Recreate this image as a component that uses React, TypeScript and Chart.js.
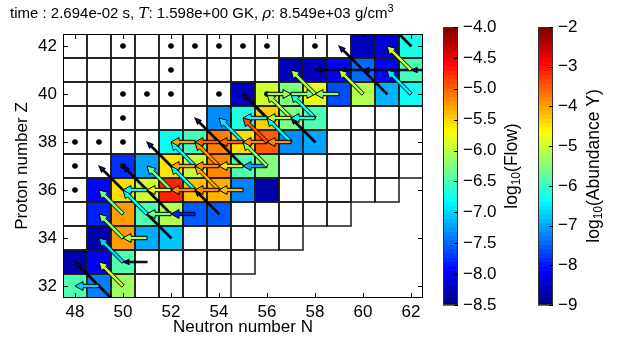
import React, { useEffect, useRef } from "react";
import { Chart, registerables } from "chart.js";

Chart.register(...registerables);

const W = 623;
const H = 347;

// ---- axis ticks ----
const xTicks = [48, 50, 52, 54, 56, 58, 60, 62];
const yTicks = [32, 34, 36, 38, 40, 42];
const flowTicks = [-4.0, -4.5, -5.0, -5.5, -6.0, -6.5, -7.0, -7.5, -8.0, -8.5];
const abundTicks = [-2, -3, -4, -5, -6, -7, -8, -9];
const flowMin = -8.5;
const flowMax = -4.0;
const abundMin = -9;
const abundMax = -2;

// ---- network extent (white cells) per proton number ----
const rowZ = [32, 33, 34, 35, 36, 37, 38, 39, 40, 41, 42];
const rowNmin = [48, 48, 48, 48, 48, 48, 48, 48, 48, 48, 48];
const rowNmax = [54, 55, 57, 59, 61, 62, 62, 62, 62, 62, 62];

// ---- abundances (log10 Y) of coloured cells ----
const cellN = [
  48, 49, 50,
  48, 49, 50,
  49, 50, 51, 52,
  49, 50, 51, 52, 53, 54,
  49, 50, 51, 52, 53, 54, 55, 56,
  50, 51, 52, 53, 54, 55, 56,
  52, 53, 54, 55, 56, 57, 58,
  54, 55, 56, 57, 58,
  55, 56, 57, 58, 59, 60, 61, 62,
  57, 58, 59, 60, 61, 62,
  60, 61, 62,
];
const cellZ = [
  32, 32, 32,
  33, 33, 33,
  34, 34, 34, 34,
  35, 35, 35, 35, 35, 35,
  36, 36, 36, 36, 36, 36, 36, 36,
  37, 37, 37, 37, 37, 37, 37,
  38, 38, 38, 38, 38, 38, 38,
  39, 39, 39, 39, 39,
  40, 40, 40, 40, 40, 40, 40, 40,
  41, 41, 41, 41, 41, 41,
  42, 42, 42,
];
const cellLogY = [
  -5.85, -7.25, -5.3,
  -8.7, -8.2, -5.8,
  -8.7, -3.95, -6.95, -6.75,
  -7.9, -3.95, -5.85, -5.15, -7.5, -7.5,
  -8.1, -4.4, -4.95, -3.1, -4.2, -4.1, -7.25, -8.7,
  -7.8, -7.0, -4.45, -5.0, -3.8, -5.85, -5.5,
  -6.3, -5.9, -3.75, -4.4, -3.5, -7.15, -7.0,
  -7.15, -6.15, -4.3, -5.5, -5.85,
  -8.6, -4.95, -5.5, -4.8, -7.6, -5.15, -6.9, -6.3,
  -8.6, -8.6, -8.1, -7.4, -8.1, -5.9,
  -8.6, -8.4, -6.2,
];

// ---- stable isotopes (black dots) ----
const stableN = [50, 52, 53, 54, 55, 56, 58, 52, 50, 51, 52, 54, 56, 50, 48, 49, 50, 48, 50, 48];
const stableZ = [42, 42, 42, 42, 42, 42, 42, 41, 40, 40, 40, 40, 40, 39, 38, 38, 38, 37, 37, 36];

// ---- flows (log10 Flow); values below flowMin are drawn as thin dark arrows ----
const flowFromN = [
  50, 50, 50, 50, 51, 52, 53, 54, 53, 54, 56, 55, 56, 57, 57, 58, 58, 60, 62, 62,
  49, 51, 51, 52, 53, 51, 52, 53, 54, 55, 53, 54, 55, 56, 53, 54, 55, 56, 57, 56, 57, 58, 56, 57, 59,
  59, 60, 61, 62, 63,
  52, 50, 52, 53, 55, 57, 61, 50, 58, 56, 54, 62,
];
const flowFromZ = [
  32, 33, 34, 35, 35, 36, 36, 36, 37, 37, 37, 38, 38, 38, 39, 39, 40, 40, 40, 41,
  32, 33, 34, 35, 35, 36, 36, 36, 36, 36, 37, 37, 37, 37, 38, 38, 38, 38, 38, 39, 39, 39, 40, 40, 40,
  41, 41, 41, 41, 41,
  34, 36, 35, 36, 37, 38, 40, 31, 38, 39, 35, 42,
];
const flowToN = [
  49, 49, 49, 49, 50, 51, 52, 53, 52, 53, 55, 54, 55, 56, 56, 57, 57, 59, 61, 61,
  48, 50, 50, 51, 52, 50, 51, 52, 53, 54, 52, 53, 54, 55, 52, 53, 54, 55, 56, 55, 56, 57, 57, 58, 58,
  58, 59, 60, 61, 62,
  50, 49, 50, 51, 53, 55, 59, 48, 57, 55, 53, 61,
];
const flowToZ = [
  33, 34, 35, 36, 36, 37, 37, 37, 38, 38, 38, 39, 39, 39, 40, 40, 41, 41, 41, 42,
  32, 33, 34, 35, 35, 36, 36, 36, 36, 36, 37, 37, 37, 37, 38, 38, 38, 38, 38, 39, 39, 39, 40, 40, 40,
  41, 41, 41, 41, 41,
  36, 37, 37, 38, 39, 40, 42, 33, 39, 40, 36, 43,
];
const flowLog = [
  -5.9, -7.0, -6.2, -6.3, -6.8, -6.3, -6.8, -5.3, -6.8, -5.2, -6.2, -6.9, -4.9, -6.8, -6.1, -6.7, -6.1, -6.0, -6.9, -5.9,
  -7.0, -9.0, -6.0, -6.3, -7.8, -6.8, -5.8, -5.2, -5.2, -5.4, -5.3, -5.2, -5.6, -7.2, -5.3, -5.0, -5.0, -5.2, -5.2, -6.8, -6.0, -6.7, -6.1, -6.2, -6.2,
  -9.0, -9.0, -9.0, -9.0, -9.0,
  -9.0, -9.0, -9.0, -9.0, -9.0, -9.0, -9.0, -9.0, -9.0, -9.0, -9.0, -9.0,
];

const FONT = "'Liberation Sans', Arial, sans-serif";

function clamp(v: number, a = 0, b = 1) {
  return Math.max(a, Math.min(b, v));
}
function jet(t: number): string {
  t = clamp(t);
  const r = clamp(Math.min(4 * t - 1.5, -4 * t + 4.5));
  const g = clamp(Math.min(4 * t - 0.5, -4 * t + 3.5));
  const b = clamp(Math.min(4 * t + 0.5, -4 * t + 2.5));
  return `rgb(${Math.round(r * 255)},${Math.round(g * 255)},${Math.round(b * 255)})`;
}

function drawArrow(
  ctx: CanvasRenderingContext2D,
  x1: number, y1: number, x2: number, y2: number,
  sw: number, hw: number, hl: number, fill: string, edgeW: number
) {
  const dx = x2 - x1, dy = y2 - y1;
  const L = Math.hypot(dx, dy);
  if (L < 1) return;
  const ux = dx / L, uy = dy / L;
  const nx = -uy, ny = ux;
  const nk = L - hl;
  const px = (a: number, s: number) => x1 + ux * a + nx * s;
  const py = (a: number, s: number) => y1 + uy * a + ny * s;
  ctx.beginPath();
  ctx.moveTo(px(0, sw / 2), py(0, sw / 2));
  ctx.lineTo(px(nk, sw / 2), py(nk, sw / 2));
  ctx.lineTo(px(nk, hw / 2), py(nk, hw / 2));
  ctx.lineTo(x2, y2);
  ctx.lineTo(px(nk, -hw / 2), py(nk, -hw / 2));
  ctx.lineTo(px(nk, -sw / 2), py(nk, -sw / 2));
  ctx.lineTo(px(0, -sw / 2), py(0, -sw / 2));
  ctx.closePath();
  ctx.fillStyle = fill;
  ctx.fill();
  ctx.lineWidth = edgeW;
  ctx.strokeStyle = "#000";
  ctx.lineJoin = "miter";
  ctx.stroke();
}

const networkPlugin = {
  id: "network",
  beforeDatasetsDraw(chart: any) {
    const { ctx, chartArea: ca } = chart;
    const xs = chart.scales.x, ys = chart.scales.y;
    ctx.save();
    ctx.beginPath();
    ctx.rect(ca.left, ca.top, ca.right - ca.left, ca.bottom - ca.top);
    ctx.clip();
    const colorOf = new Map<string, string>();
    cellN.forEach((n, i) => {
      colorOf.set(`${n},${cellZ[i]}`, jet((cellLogY[i] - abundMin) / (abundMax - abundMin)));
    });
    rowZ.forEach((z, r) => {
      for (let n = rowNmin[r]; n <= rowNmax[r]; n++) {
        const x0 = xs.getPixelForValue(n - 0.5), x1 = xs.getPixelForValue(n + 0.5);
        const y0 = ys.getPixelForValue(z + 0.5), y1 = ys.getPixelForValue(z - 0.5);
        ctx.fillStyle = colorOf.get(`${n},${z}`) || "#fff";
        ctx.fillRect(x0, y0, x1 - x0, y1 - y0);
      }
    });
    ctx.lineWidth = 1.5;
    ctx.strokeStyle = "#1a1a1a";
    rowZ.forEach((z, r) => {
      for (let n = rowNmin[r]; n <= rowNmax[r]; n++) {
        const x0 = xs.getPixelForValue(n - 0.5), x1 = xs.getPixelForValue(n + 0.5);
        const y0 = ys.getPixelForValue(z + 0.5), y1 = ys.getPixelForValue(z - 0.5);
        ctx.strokeRect(x0, y0, x1 - x0, y1 - y0);
      }
    });
    ctx.restore();
  },
  afterDatasetsDraw(chart: any) {
    const { ctx, chartArea: ca } = chart;
    const xs = chart.scales.x, ys = chart.scales.y;
    ctx.save();
    ctx.beginPath();
    ctx.rect(ca.left, ca.top, ca.right - ca.left, ca.bottom - ca.top);
    ctx.clip();
    // weak flows first, strong on top
    const order = flowLog.map((_, i) => i).sort((a, b) => flowLog[a] - flowLog[b]);
    order.forEach((i) => {
      const x1 = xs.getPixelForValue(flowFromN[i]), y1 = ys.getPixelForValue(flowFromZ[i]);
      const x2 = xs.getPixelForValue(flowToN[i]), y2 = ys.getPixelForValue(flowToZ[i]);
      const f = flowLog[i];
      const col = jet((f - flowMin) / (flowMax - flowMin));
      if (f < flowMin) {
        drawArrow(ctx, x1, y1, x2, y2, 1.6, 5, 6, "#00008f", 1.1);
      } else {
        drawArrow(ctx, x1, y1, x2, y2, 3.4, 9, 8, col, 1.0);
      }
    });
    ctx.restore();

    // frame and inward ticks
    ctx.save();
    ctx.strokeStyle = "#000";
    ctx.lineWidth = 1;
    ctx.strokeRect(ca.left + 0.5, ca.top + 0.5, ca.right - ca.left - 1, ca.bottom - ca.top - 1);
    ctx.beginPath();
    xTicks.forEach((v) => {
      const x = Math.round(xs.getPixelForValue(v)) + 0.5;
      ctx.moveTo(x, ca.bottom); ctx.lineTo(x, ca.bottom - 5);
      ctx.moveTo(x, ca.top); ctx.lineTo(x, ca.top + 5);
    });
    yTicks.forEach((v) => {
      const y = Math.round(ys.getPixelForValue(v)) + 0.5;
      ctx.moveTo(ca.left, y); ctx.lineTo(ca.left + 5, y);
      ctx.moveTo(ca.right, y); ctx.lineTo(ca.right - 5, y);
    });
    ctx.stroke();
    ctx.restore();
  },
  afterDraw(chart: any) {
    const { ctx, chartArea: ca } = chart;
    ctx.save();
    ctx.fillStyle = "#000";
    // title
    let x = 10;
    const by = 18;
    const seg = (t: string, font: string, dy = 0) => {
      ctx.font = font;
      ctx.textBaseline = "alphabetic";
      ctx.textAlign = "left";
      ctx.fillText(t, x, by + dy);
      x += ctx.measureText(t).width;
    };
    const nf = `15px ${FONT}`;
    const mf = `italic 15px 'DejaVu Serif', serif`;
    seg("time : 2.694e-02 s, ", nf);
    seg("T", mf);
    seg(": 1.598e+00 GK, ", nf);
    seg("\u03c1", mf);
    seg(": 8.549e+03 g/cm", nf);
    seg("3", `11px ${FONT}`, -6);

    // axis titles
    ctx.font = `17px ${FONT}`;
    ctx.textAlign = "center";
    ctx.textBaseline = "middle";
    ctx.fillText("Neutron number N", (ca.left + ca.right) / 2, 327);
    ctx.save();
    ctx.translate(22, (ca.top + ca.bottom) / 2);
    ctx.rotate(-Math.PI / 2);
    ctx.fillText("Proton number Z", 0, 0);
    ctx.restore();

    // colour bars
    const barTop = 27, barBot = 305, barW = 15;
    const bars = [
      { x: 443, ticks: flowTicks, lo: flowMin, hi: flowMax, fmt: (v: number) => v.toFixed(1), label: "(Flow)", lx: 512 },
      { x: 538, ticks: abundTicks, lo: abundMin, hi: abundMax, fmt: (v: number) => v.toFixed(0), label: "(Abundance Y)", lx: 594 },
    ];
    bars.forEach((b) => {
      const h = barBot - barTop;
      const nb = 64;
      for (let k = 0; k < nb; k++) {
        const y0 = barBot - (k + 1) * h / nb;
        ctx.fillStyle = jet((k + 0.5) / nb);
        ctx.fillRect(b.x, y0, barW, h / nb + 0.6);
      }
      ctx.strokeStyle = "#333";
      ctx.lineWidth = 1;
      ctx.strokeRect(b.x + 0.5, barTop + 0.5, barW - 1, h - 1);
      ctx.fillStyle = "#000";
      ctx.font = `17px ${FONT}`;
      ctx.textAlign = "left";
      ctx.textBaseline = "middle";
      ctx.beginPath();
      b.ticks.forEach((v) => {
        const y = barBot - ((v - b.lo) / (b.hi - b.lo)) * h;
        ctx.fillText(b.fmt(v).replace("-", "\u2212"), b.x + barW + 5, y);
        ctx.moveTo(b.x + barW, Math.round(y) + 0.5);
        ctx.lineTo(b.x + barW - 4, Math.round(y) + 0.5);
      });
      ctx.strokeStyle = "#000";
      ctx.stroke();
      // rotated label with subscript
      ctx.save();
      ctx.translate(b.lx, (barTop + barBot) / 2);
      ctx.rotate(-Math.PI / 2);
      ctx.textBaseline = "middle";
      ctx.font = `17.5px ${FONT}`;
      const w1 = ctx.measureText("log").width;
      ctx.font = `12px ${FONT}`;
      const w2 = ctx.measureText("10").width;
      ctx.font = `17.5px ${FONT}`;
      const w3 = ctx.measureText(b.label).width;
      let sx = -(w1 + w2 + w3) / 2;
      ctx.textAlign = "left";
      ctx.fillText("log", sx, 0);
      sx += w1;
      ctx.font = `12px ${FONT}`;
      ctx.fillText("10", sx, 5);
      sx += w2;
      ctx.font = `17.5px ${FONT}`;
      ctx.fillText(b.label, sx, 0);
      ctx.restore();
    });
    ctx.restore();
  },
};

export default function App() {
  const ref = useRef<HTMLCanvasElement | null>(null);
  useEffect(() => {
    if (!ref.current) return;
    const chart = new Chart(ref.current, {
      type: "scatter",
      data: {
        datasets: [
          {
            data: stableN.map((n, i) => ({ x: n, y: stableZ[i] })),
            pointRadius: 2.8,
            pointBackgroundColor: "#000",
            pointBorderWidth: 0,
            pointHoverRadius: 2.8,
          },
        ],
      },
      options: {
        animation: false,
        responsive: false,
        devicePixelRatio: 1,
        events: [],
        layout: { padding: { left: 0, top: 34, right: 200, bottom: 0 } },
        plugins: { legend: { display: false }, tooltip: { enabled: false }, title: { display: false } },
        scales: {
          x: {
            type: "linear",
            min: 47.5,
            max: 62.5,
            afterBuildTicks: (s: any) => { s.ticks = xTicks.map((v) => ({ value: v })); },
            afterFit: (s: any) => { s.height = 49; },
            grid: { display: false, drawTicks: false },
            border: { display: false },
            ticks: { color: "#000", font: { family: FONT, size: 17 }, padding: 4, maxRotation: 0, autoSkip: false },
          },
          y: {
            type: "linear",
            min: 31.5,
            max: 42.5,
            afterBuildTicks: (s: any) => { s.ticks = yTicks.map((v) => ({ value: v })); },
            afterFit: (s: any) => { s.width = 63; },
            grid: { display: false, drawTicks: false },
            border: { display: false },
            ticks: { color: "#000", font: { family: FONT, size: 17 }, padding: 6, autoSkip: false },
          },
        },
      },
      plugins: [networkPlugin],
    });
    return () => chart.destroy();
  }, []);
  return (
    <div style={{ position: "absolute", left: 0, top: 0, width: W, height: H, background: "#fff" }}>
      <canvas ref={ref} width={W} height={H} style={{ width: W, height: H, display: "block" }} />
    </div>
  );
}
